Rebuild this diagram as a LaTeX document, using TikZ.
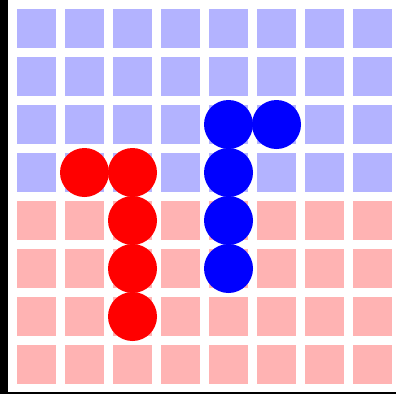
\documentclass[tikz,border=0pt]{standalone}
\begin{document}
\begin{tikzpicture}[x=1pt,y=-1pt,
  topcell/.style={fill={rgb,255:red,179;green,179;blue,255}},
  botcell/.style={fill={rgb,255:red,255;green,179;blue,179}},
  redstone/.style={circle,fill={rgb,255:red,255;green,0;blue,0},minimum size=49pt,inner sep=0pt},
  bluestone/.style={circle,fill={rgb,255:red,0;green,0;blue,255},minimum size=49pt,inner sep=0pt}]
\useasboundingbox (0,0) rectangle (396,394);
\fill[white] (0,0) rectangle (396,394);
\fill[black] (0,0) rectangle (8,394);
\fill[black] (8,392) rectangle (396,394);
\foreach \i in {0,...,7}{
  \foreach \j in {0,...,3}{
    \path[topcell] (17+48*\i,9+48*\j) rectangle ++(39,39);
  }
  \foreach \j in {4,...,7}{
    \path[botcell] (17+48*\i,9+48*\j) rectangle ++(39,39);
  }
}
\node[redstone] (r1) at (84.5,172.5) {};
\node[redstone] (r2) at (132.5,172.5) {};
\node[redstone] (r3) at (132.5,220.5) {};
\node[redstone] (r4) at (132.5,268.5) {};
\node[redstone] (r5) at (132.5,316.5) {};
\node[bluestone] (b1) at (228.5,124.5) {};
\node[bluestone] (b2) at (276.5,124.5) {};
\node[bluestone] (b3) at (228.5,172.5) {};
\node[bluestone] (b4) at (228.5,220.5) {};
\node[bluestone] (b5) at (228.5,268.5) {};
\end{tikzpicture}
\end{document}
